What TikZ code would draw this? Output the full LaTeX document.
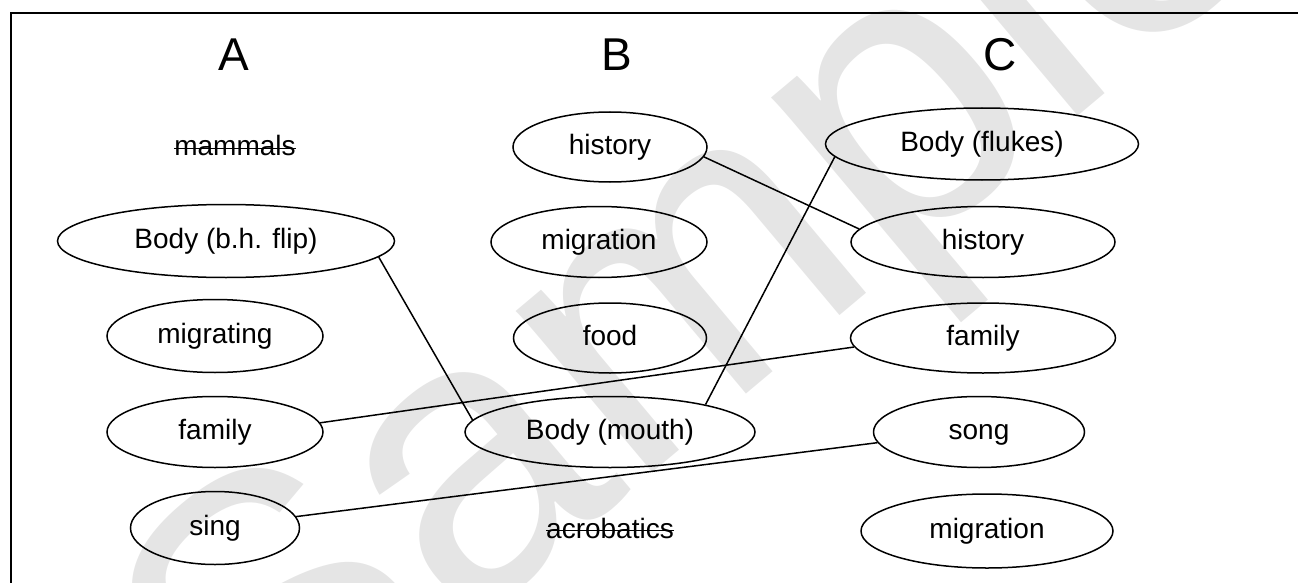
\documentclass[tikz,border=0pt]{standalone}
\usepackage{fontspec}
\setmainfont{Liberation Sans}
\usetikzlibrary{shapes.geometric}

\tikzset{
  bubble/.style={draw, ellipse, line width=1.5pt, inner sep=0pt, text height=20pt, text depth=6pt, font=\fontsize{28}{30}\selectfont},
  word/.style={inner sep=0pt, text height=20pt, text depth=6pt, font=\fontsize{28}{30}\selectfont},
  head/.style={inner sep=0pt, font=\fontsize{46}{48}\selectfont},
  link/.style={line width=1.5pt},
  strike/.style={line width=1.8pt}
}

\begin{document}
\begin{tikzpicture}[x=1pt,y=-1pt]
\useasboundingbox (0,0) rectangle (1298,583);
% watermark
\node[rotate=40, text=black!10, font=\fontsize{400}{400}\selectfont] (wmark) at (710,290) {Sample};
% frame
\draw[line width=2pt] (11,600) -- (11,13) -- (1310,13);

% column heads
\node[head] (hA) at (234,55) {A};
\node[head] (hB) at (617,55) {B};
\node[head] (hC) at (1000,55) {C};

% column A
\node[word] (amammals) at (235,149) {mammals};
\node[bubble, minimum width=337, minimum height=73] (aflip) at (226,241) {Body (b.h. flip)};
\node[bubble, minimum width=216, minimum height=73] (amigrating) at (215,336) {migrating};
\node[bubble, minimum width=216, minimum height=71] (afamily) at (215,432) {family};
\node[bubble, minimum width=169, minimum height=73] (asing) at (215,528) {sing};

% column B
\node[bubble, minimum width=194, minimum height=70] (bhistory) at (610,147) {history};
\node[bubble, minimum width=216, minimum height=71] (bmigration) at (599,242) {migration};
\node[bubble, minimum width=193, minimum height=70] (bfood) at (610,338) {food};
\node[bubble, minimum width=290, minimum height=71] (bmouth) at (610,432) {Body (mouth)};
\node[word] (bacrobatics) at (610,531) {acrobatics};

% column C
\node[bubble, minimum width=313, minimum height=72] (cflukes) at (982,144) {Body (flukes)};
\node[bubble, minimum width=264, minimum height=71] (chistory) at (983,242) {history};
\node[bubble, minimum width=265, minimum height=70] (cfamily) at (983,338) {family};
\node[bubble, minimum width=211, minimum height=71] (csong) at (979,432) {song};
\node[bubble, minimum width=252, minimum height=74] (cmigration) at (987,531) {migration};

% crossed out
\draw[strike] ([yshift=7.5pt]amammals.base west) -- ([yshift=7.5pt]amammals.base east);
\draw[strike] ([yshift=7.5pt]bacrobatics.base west) -- ([yshift=7.5pt]bacrobatics.base east);

% matches
\draw[link] (aflip.-6) -- (bmouth.175);
\draw[link] (bmouth.16) -- (cflukes.185);
\draw[link] (bhistory.-6) -- (chistory.174);
\draw[link] (afamily.5) -- (cfamily.184);
\draw[link] (asing.8) -- (csong.186);
\end{tikzpicture}
\end{document}
